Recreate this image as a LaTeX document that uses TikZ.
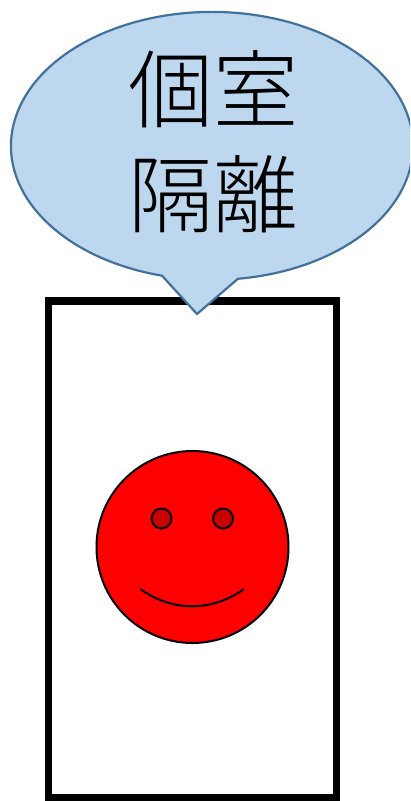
\documentclass[tikz,border=0pt]{standalone}
\usepackage{fontspec}
\newfontfamily\cjk{Noto Sans CJK JP Light}
\definecolor{bubbleedge}{HTML}{41719C}
\definecolor{bubblefill}{HTML}{BDD7EE}
\definecolor{eyered}{HTML}{C80000}
\tikzset{
  bubble/.style={draw=bubbleedge,fill=bubblefill,line width=2.2bp,line join=round},
  room/.style={draw=black,line width=7.5bp,fill=white},
  face/.style={draw=black,fill=red,line width=2bp},
  eye/.style={draw=black,fill=eyered,line width=2bp},
  bubbletext/.style={font=\cjk\fontsize{85bp}{105bp}\selectfont,align=center,inner sep=0pt,text=black}
}
\begin{document}
\begin{tikzpicture}[x=1bp,y=-1bp]
\useasboundingbox (0,0) rectangle (410,801);
\clip (0,0) rectangle (410,801);
\node[room,minimum width=288bp,minimum height=497bp,inner sep=0pt] (roombox) at (192.5,549.5) {};
\path[bubble] (162,275.7) arc[start angle=104.4,end angle=442.6,x radius=201,y radius=134]
  -- (197,314) -- cycle;
\node[bubbletext] (label) at (213,142) {個室\\隔離};
\node[face,circle,minimum size=192bp,inner sep=0pt] (head) at (192.5,547) {};
\node[eye,circle,minimum size=20bp,inner sep=0pt] (eyeL) at (161.5,518.5) {};
\node[eye,circle,minimum size=20bp,inner sep=0pt] (eyeR) at (223,518.5) {};
\coordinate (mouthL) at (140.5,589);
\coordinate (mouthR) at (244,589);
\draw[black,line width=2bp] (mouthL) .. controls (172,612) and (212,612) .. (mouthR);
\end{tikzpicture}
\end{document}
